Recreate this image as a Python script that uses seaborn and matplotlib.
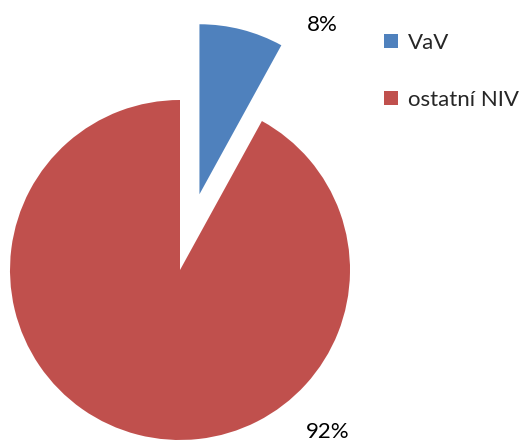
import matplotlib
matplotlib.use("Agg")
import matplotlib.pyplot as plt
import seaborn as sns

labels = ["VaV", "ostatní NIV"]
shares = [8, 92]
colors = ["#4F81BD", "#C0504D"]
explode = [0.46, 0]

sns.set_style("white")
plt.rcParams["font.family"] = ["Lato", "DejaVu Sans"]

fig = plt.figure(figsize=(5.27, 4.44), dpi=100)
ax = fig.add_axes([0, 0, 1, 1])

wedges, texts, autotexts = ax.pie(
    shares, colors=colors, explode=explode, startangle=90, counterclock=False,
    autopct="%d%%", radius=1, wedgeprops={"linewidth": 0},
    textprops={"fontsize": 16, "color": "black"})

# label positions as placed in the reference (best fit outside)
autotexts[0].set_position((0.835, 1.44))
autotexts[1].set_position((0.87, -0.95))

ax.set_xlim(-180 / 170, (527 - 180) / 170)
ax.set_ylim(-174 / 170, (444 - 174) / 170)
ax.set_aspect("auto")
ax.axis("off")

ax.legend(wedges, labels, loc="upper left", bbox_to_anchor=(0.708, 0.951),
          frameon=False, fontsize=16, handlelength=0.6, handleheight=0.6,
          handletextpad=0.45, labelspacing=1.68, borderpad=0)

fig.savefig("out.png", dpi=100)
plt.close()
